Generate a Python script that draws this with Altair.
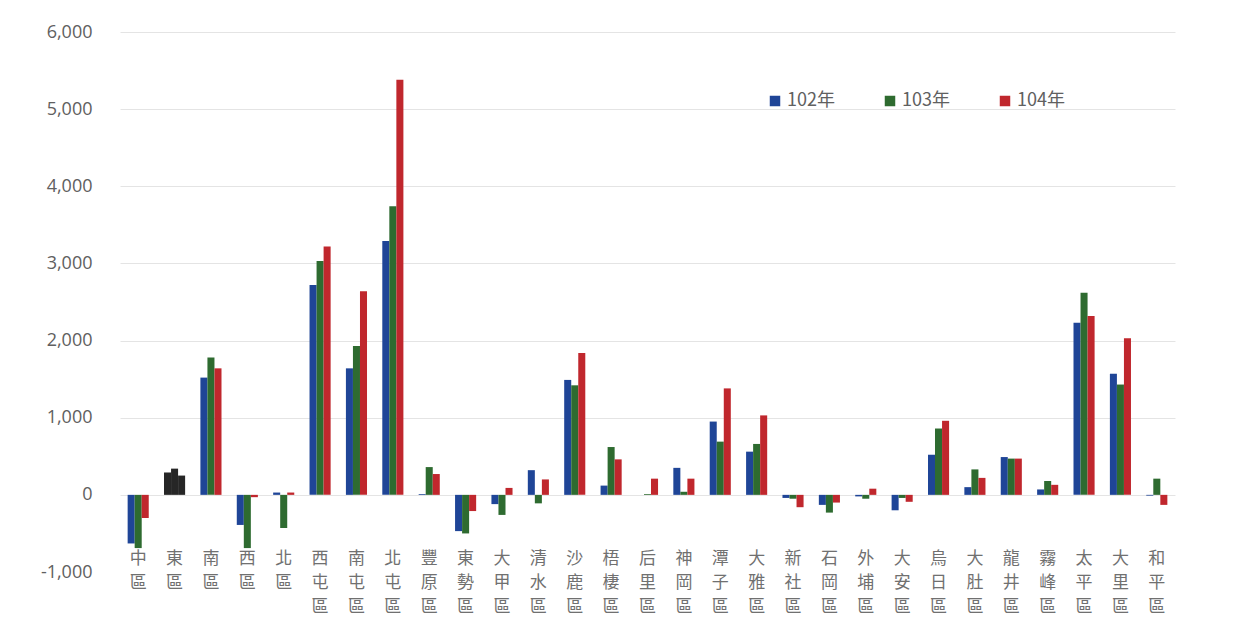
import altair as alt
import pandas as pd

districts = ['中區', '東區', '南區', '西區', '北區', '西屯區', '南屯區', '北屯區', '豐原區', '東勢區',
             '大甲區', '清水區', '沙鹿區', '梧棲區', '后里區', '神岡區', '潭子區', '大雅區', '新社區', '石岡區',
             '外埔區', '大安區', '烏日區', '大肚區', '龍井區', '霧峰區', '太平區', '大里區', '和平區']
years = ['102年', '103年', '104年']
v102 = [-630, 290, 1520, -390, 30, 2720, 1640, 3290, 10, -470, -120, 320, 1490, 120, 0, 350,
        950, 560, -40, -130, -20, -200, 520, 100, 490, 70, 2230, 1570, -10]
v103 = [-690, 340, 1780, -690, -430, 3030, 1930, 3740, 360, -500, -260, -110, 1420, 620, 10, 40,
        690, 660, -50, -230, -50, -40, 860, 330, 470, 180, 2620, 1430, 210]
v104 = [-300, 250, 1640, -30, 30, 3220, 2640, 5380, 270, -210, 90, 200, 1840, 460, 210, 210,
        1380, 1030, -160, -100, 80, -90, 960, 220, 470, 130, 2320, 2030, -130]
y_ticks = [-1000, 0, 1000, 2000, 3000, 4000, 5000, 6000]
colors = ['#1f4597', '#2e6b30', '#c0272d']
highlight_district = '東區'
highlight_color = '#262626'

rows = []
for yr, vals in zip(years, [v102, v103, v104]):
    for d, v in zip(districts, vals):
        rows.append({'district': d, 'year': yr, 'value': v})
df = pd.DataFrame(rows)

chart = alt.Chart(df).mark_bar().encode(
    x=alt.X('district:N', sort=districts,
            scale=alt.Scale(paddingInner=0.42, paddingOuter=0.21),
            axis=alt.Axis(title=None, labelAngle=0, labelExpr="split(datum.label, '')",
                          labelLineHeight=24, labelFontSize=17, labelBaseline='top',
                          labelPadding=-22, domain=False, ticks=False, grid=False,
                          labelAlign='center', labelOverlap=False, labelBound=False,
                          labelColor='#707070', labelFont='Noto Sans CJK TC')),
    xOffset=alt.XOffset('year:N', sort=years, scale=alt.Scale(paddingInner=0, paddingOuter=0)),
    y=alt.Y('value:Q', scale=alt.Scale(domain=[-1000, 6000], nice=False),
            axis=alt.Axis(title=None, values=y_ticks,
                          labelExpr="datum.value < 0 ? '-' + format(-datum.value, ',') : format(datum.value, ',')",
                          domain=False, ticks=False, grid=True,
                          gridColor={"condition": {"test": "datum.value === -1000", "value": "transparent"},
                                     "value": "#e4e4e4"},
                          labelFontSize=18, labelColor='#606060', labelPadding=28,
                          labelFont='Open Sans')),
    color=alt.condition(
        alt.datum.district == highlight_district,
        alt.value(highlight_color),
        alt.Color('year:N', sort=years,
                  scale=alt.Scale(domain=years, range=colors),
                  legend=alt.Legend(title=None, orient='none', legendX=646, legendY=60,
                                    direction='horizontal', symbolType='square',
                                    symbolSize=110, symbolStrokeWidth=0,
                                    labelFontSize=18, labelColor='#606060',
                                    labelFont='Noto Sans CJK TC', columnPadding=46,
                                    symbolOffset=0, labelOffset=3))
    ),
).properties(
    width=1055, height=540,
    autosize=alt.AutoSizeParams(type='none'),
    padding={'left': 112, 'top': 24, 'right': 76, 'bottom': 50},
).configure_view(stroke=None)

chart.save("out.html", embed_options={"renderer": "svg", "actions": False})
